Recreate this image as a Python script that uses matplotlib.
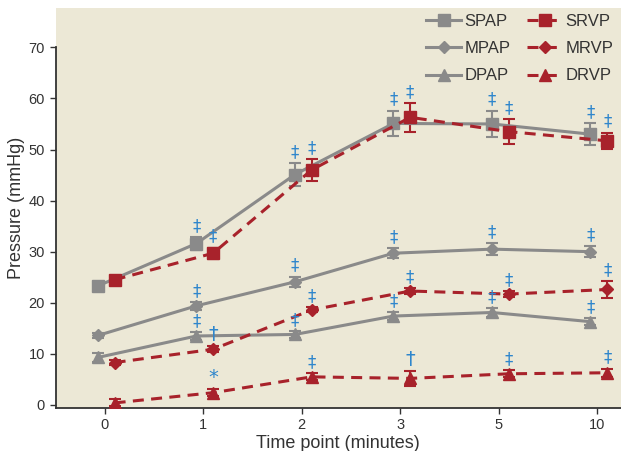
import numpy as np
import matplotlib.pyplot as plt

# time points (minutes) shown as evenly spaced categories
time_labels = ['0', '1', '2', '3', '5', '10']

# pressures (mmHg), mean and error
spap = [23.3, 31.6, 45.1, 55.1, 55.0, 53.0]
spap_err = [0.7, 1.2, 2.2, 2.5, 2.6, 2.2]
srvp = [24.5, 29.7, 46.0, 56.3, 53.5, 51.7]
srvp_err = [0.8, 1.1, 2.1, 2.8, 2.4, 1.6]
mpap = [13.6, 19.4, 24.1, 29.7, 30.5, 30.0]
mpap_err = [0.5, 0.8, 1.0, 1.0, 1.2, 1.1]
mrvp = [8.3, 10.9, 18.6, 22.3, 21.7, 22.6]
mrvp_err = [0.5, 0.6, 0.5, 0.6, 0.6, 1.7]
dpap = [9.3, 13.5, 13.8, 17.4, 18.1, 16.3]
dpap_err = [0.8, 0.8, 0.7, 0.8, 0.8, 0.7]
drvp = [0.4, 2.4, 5.5, 5.2, 6.1, 6.3]
drvp_err = [0.7, 0.7, 0.7, 1.5, 0.7, 0.8]

# significance symbols per time point
spap_sig = ['', '‡', '‡', '‡', '‡', '‡']
srvp_sig = ['', '‡', '‡', '‡', '‡', '‡']
mpap_sig = ['', '‡', '‡', '‡', '‡', '‡']
mrvp_sig = ['', '†', '‡', '‡', '‡', '‡']
dpap_sig = ['', '‡', '‡', '‡', '‡', '‡']
drvp_sig = ['', '*', '‡', '†', '‡', '‡']

GRAY = '#8a8a8a'
RED = '#a8222b'
BLUE = '#2f86cc'
BEIGE = '#ece8d6'
INK = '#333333'

plt.rcParams['font.family'] = ['Liberation Sans', 'DejaVu Sans']

fig = plt.figure(figsize=(6.21, 4.51), dpi=100)
ax = fig.add_axes([0.0894, 0.0953, 0.9106, 0.887])
ax.set_facecolor(BEIGE)

x = np.arange(len(time_labels))
pap_off = -0.07
rvp_off = 0.1
dash = (0, (3.6, 2.4))

series = [
    ('SPAP', spap, spap_err, spap_sig, GRAY, 's', 9, '-', pap_off),
    ('MPAP', mpap, mpap_err, mpap_sig, GRAY, 'D', 6, '-', pap_off),
    ('DPAP', dpap, dpap_err, dpap_sig, GRAY, '^', 9, '-', pap_off),
    ('SRVP', srvp, srvp_err, srvp_sig, RED, 's', 9, dash, rvp_off),
    ('MRVP', mrvp, mrvp_err, mrvp_sig, RED, 'D', 6, dash, rvp_off),
    ('DRVP', drvp, drvp_err, drvp_sig, RED, '^', 9, dash, rvp_off),
]

handles = []
names = []
for name, vals, err, sig, col, mk, ms, ls, off in series:
    c = ax.errorbar(x + off, vals, yerr=err, color=col, marker=mk, ms=ms,
                    lw=2.2, ls=ls, capsize=4, capthick=1.5, elinewidth=1.5,
                    ecolor=col, zorder=3)
    handles.append(c[0])
    names.append(name)
    for xi, v, e, s in zip(x + off, vals, err, sig):
        if s:
            fs = 12 if s == '‡' else 14
            ax.annotate(s, (xi, v + e), xytext=(0, 1.5), textcoords='offset points',
                        ha='center', va='bottom', color=BLUE, fontsize=fs,
                        family=['DejaVu Sans'], zorder=4)

ax.set_xlim(-0.5, 5.24)
ax.set_ylim(-0.6, 77.7)
ax.set_xticks(x)
ax.set_xticklabels(time_labels)
ax.set_yticks(np.arange(0, 71, 10))
ax.tick_params(labelsize=10.5, length=4, width=1, color=INK, labelcolor=INK)

for s in ['top', 'right']:
    ax.spines[s].set_visible(False)
ax.spines['left'].set_bounds(-0.6, 70)
for s in ['left', 'bottom']:
    ax.spines[s].set_color(INK)
    ax.spines[s].set_linewidth(1.3)

ax.set_xlabel('Time point (minutes)', fontsize=13, color=INK, labelpad=2)
ax.set_ylabel('Pressure (mmHg)', fontsize=13, color=INK, labelpad=3)

leg = ax.legend(handles=handles, labels=names, ncol=2,
                loc='upper right', bbox_to_anchor=(0.997, 1.0), frameon=False,
                fontsize=12, handlelength=2.1, handletextpad=0.2,
                columnspacing=1.0, labelspacing=0.74, borderaxespad=0.15,
                borderpad=0.2)
for t in leg.get_texts():
    t.set_color(INK)

fig.savefig('out.png', dpi=100)
